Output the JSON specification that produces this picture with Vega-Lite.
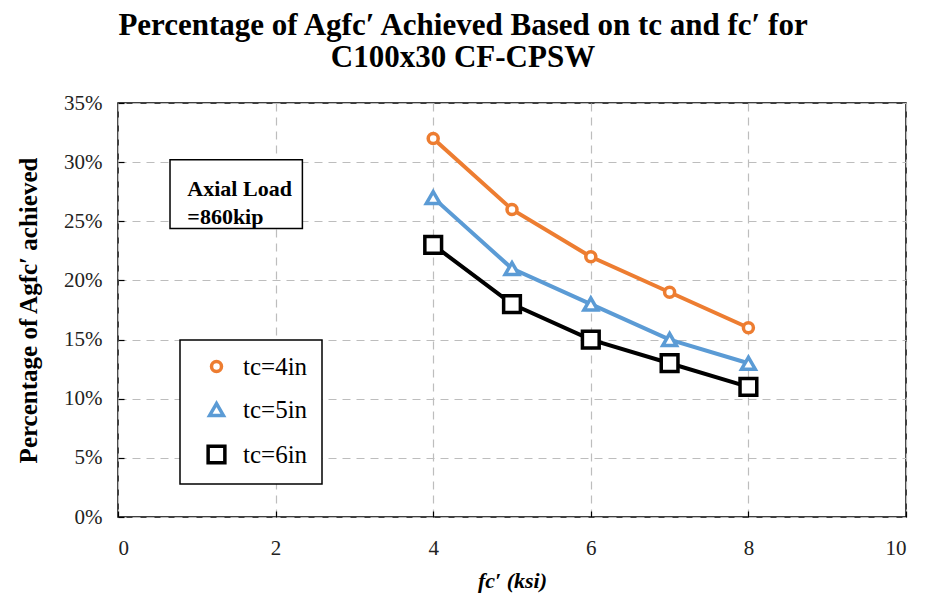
{
  "$schema": "https://vega.github.io/schema/vega-lite/v6.json",
  "autosize": "none",
  "width": 788,
  "height": 414,
  "padding": {"left": 118, "top": 103, "right": 20, "bottom": 90},
  "background": "white",
  "config": {
    "font": "Liberation Serif",
    "view": {"stroke": "black", "strokeWidth": 1.5},
    "axis": {
      "labelFont": "Liberation Serif",
      "labelFontSize": 21,
      "labelColor": "#222",
      "titleFont": "Liberation Serif",
      "titleFontWeight": "bold",
      "titleColor": "black",
      "grid": true,
      "gridColor": "#bdbdbd",
      "gridDash": [8, 6],
      "gridWidth": 1.2,
      "domain": false,
      "tickColor": "black",
      "tickSize": -6,
      "tickWidth": 1.2
    },
    "legend": {
      "orient": "none",
      "legendX": 62,
      "legendY": 237,
      "direction": "vertical",
      "strokeColor": "black",
      "strokeWidth": 1.5,
      "fillColor": "white",
      "padding": 14,
      "rowPadding": 16,
      "labelFont": "Liberation Serif",
      "labelFontSize": 25,
      "labelColor": "black",
      "labelOffset": 14,
      "symbolStrokeWidth": 3.5,
      "symbolFillColor": "white",
      "symbolOffset": 10
    }
  },
  "title": {
    "text": ["Percentage of Agfc′ Achieved Based on tc and fc′ for", "C100x30 CF-CPSW"],
    "font": "Liberation Serif",
    "fontSize": 31,
    "fontWeight": "bold",
    "color": "black",
    "anchor": "middle",
    "dx": -49,
    "lineHeight": 32,
    "offset": 18
  },
  "datasets": {
    "series": [
      {"tc": "tc=4in", "fc": 4, "pct": 0.32},
      {"tc": "tc=4in", "fc": 5, "pct": 0.26},
      {"tc": "tc=4in", "fc": 6, "pct": 0.22},
      {"tc": "tc=4in", "fc": 7, "pct": 0.19},
      {"tc": "tc=4in", "fc": 8, "pct": 0.16},
      {"tc": "tc=5in", "fc": 4, "pct": 0.27},
      {"tc": "tc=5in", "fc": 5, "pct": 0.21},
      {"tc": "tc=5in", "fc": 6, "pct": 0.18},
      {"tc": "tc=5in", "fc": 7, "pct": 0.15},
      {"tc": "tc=5in", "fc": 8, "pct": 0.13},
      {"tc": "tc=6in", "fc": 4, "pct": 0.23},
      {"tc": "tc=6in", "fc": 5, "pct": 0.18},
      {"tc": "tc=6in", "fc": 6, "pct": 0.15},
      {"tc": "tc=6in", "fc": 7, "pct": 0.13},
      {"tc": "tc=6in", "fc": 8, "pct": 0.11}
    ],
    "note": [
      {"label": "Axial Load =860kip"}
    ]
  },
  "layer": [
    {
      "data": {"name": "note"},
      "mark": {"type": "rect", "fill": "white", "stroke": "black", "strokeWidth": 1.5},
      "encoding": {
        "x": {"datum": 0.66, "type": "quantitative", "scale": {"domain": [0, 10], "nice": false}, "axis": {"values": [0, 2, 4, 6, 8, 10], "format": "d", "labelPadding": 26, "title": "fc′ (ksi)", "titleFontSize": 22, "titleFontStyle": "italic", "titlePadding": 12}},
        "x2": {"datum": 2.34},
        "y": {"datum": 0.302, "type": "quantitative", "scale": {"domain": [0, 0.35], "nice": false}, "axis": {"values": [0, 0.05, 0.1, 0.15, 0.2, 0.25, 0.3, 0.35], "format": ".0%", "labelPadding": 22, "title": "Percentage of Agfc′ achieved", "titleFontSize": 25, "titleX": -77}},
        "y2": {"datum": 0.244}
      }
    },
    {
      "data": {"name": "note"},
      "mark": {"type": "text", "align": "left", "baseline": "middle", "font": "Liberation Serif", "fontSize": 22, "fontWeight": "bold", "fill": "black", "lineHeight": 28},
      "encoding": {
        "x": {"datum": 0.88, "type": "quantitative"},
        "y": {"datum": 0.277, "type": "quantitative"},
        "text": {"value": ["Axial Load", "=860kip"]}
      }
    },
    {
      "data": {"name": "series"},
      "mark": {"type": "line", "strokeWidth": 4},
      "encoding": {
        "x": {"field": "fc", "type": "quantitative"},
        "y": {"field": "pct", "type": "quantitative"},
        "color": {
          "field": "tc", "type": "nominal", "title": null,
          "scale": {"domain": ["tc=4in", "tc=5in", "tc=6in"], "range": ["#ED7D31", "#5B9BD5", "#000000"]},
          "legend": {
            "encode": {
              "symbols": {
                "update": {
                  "fill": {"value": "white"},
                  "fillOpacity": {"value": 1},
                  "strokeWidth": {"value": 3.5}
                }
              }
            }
          }
        }
      }
    },
    {
      "data": {"name": "series"},
      "mark": {"type": "point", "filled": false, "fill": "white", "fillOpacity": 1, "strokeWidth": 3.5, "opacity": 1},
      "encoding": {
        "x": {"field": "fc", "type": "quantitative"},
        "y": {"field": "pct", "type": "quantitative"},
        "stroke": {
          "field": "tc", "type": "nominal", "legend": null,
          "scale": {"domain": ["tc=4in", "tc=5in", "tc=6in"], "range": ["#ED7D31", "#5B9BD5", "#000000"]}
        },
        "shape": {
          "field": "tc", "type": "nominal", "legend": null,
          "scale": {"domain": ["tc=4in", "tc=5in", "tc=6in"], "range": ["circle", "triangle-up", "square"]}
        },
        "size": {
          "field": "tc", "type": "nominal", "legend": null,
          "scale": {"domain": ["tc=4in", "tc=5in", "tc=6in"], "range": [100, 280, 230]}
        }
      }
    }
  ]
}
